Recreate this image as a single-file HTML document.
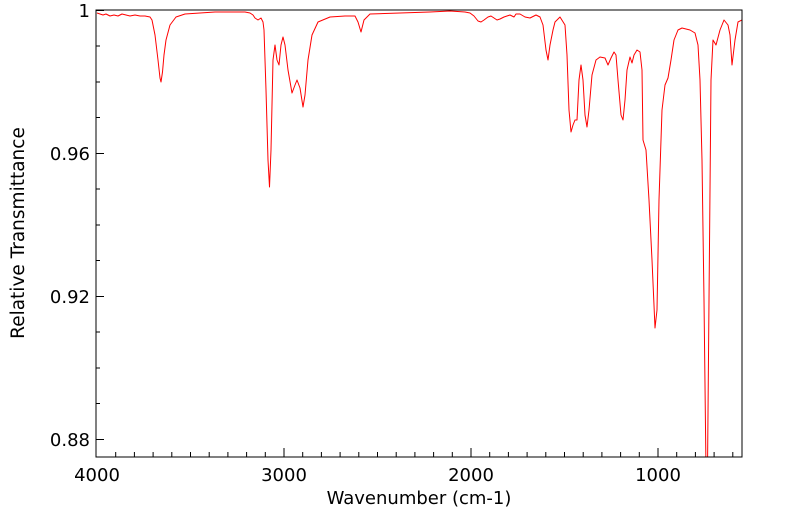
<!DOCTYPE html>
<html><head><meta charset="utf-8"><style>
html,body{margin:0;padding:0;background:#fff;}
svg{display:block;font-family:"DejaVu Sans","Liberation Sans",sans-serif;}
</style></head><body>
<svg width="799" height="516" viewBox="0 0 799 516" xmlns="http://www.w3.org/2000/svg">
<defs><clipPath id="c"><rect x="96" y="10" width="646" height="447"/></clipPath></defs>
<g clip-path="url(#c)">
<polyline fill="none" stroke="#ff0000" stroke-width="1" stroke-linejoin="round" points="97,13 100,14 103,15 106,14 110,16 114,15 118,16 122,14 126,15 130,16 135,15 140,16 145,16 150,17 152,20 155,35 158,60 160,78 161,82 162.5,72 164,55 166,40 170,25 176,17 185,14 200,13 215,12 230,12 245,12 250,13 253,15 255,18 258,20 261,18 263,22 264,30 266,90 268,160 269.5,187 271,150 273,60 275,45 277,60 279,65 281,45 283,37 285,45 288,70 292,93 295,85 297,80 300,88 303,107 305,95 308,60 312,35 318,22 330,17 345,16 355,16 358,22 361,32 364,20 370,14 400,13 430,12 450,11 465,12 470,13 474,16 478,21 481,22 484,20 488,17 491,16 494,18 497,20 500,19 504,17 510,15 514,17 516,14 520,14 525,17 530,18 536,15 540,17 543,25 546,50 548,60 550,45 553,30 555,22 560,17 565,25 567,55 569,110 571,132 573,125 575,120 577,120 579,80 581,65 583,80 585,115 587,127 589,110 592,75 596,60 600,57 605,58 608,65 611,58 614,52 616,55 618,80 621,115 623,120 625,100 627,70 630,57 632,63 634,55 637,50 640,52 642,70 643,140 646,150 649,200 652,260 655,328 657,310 659,200 662,110 665,85 668,78 671,60 674,40 678,30 682,28 690,30 695,33 698,45 700,80 702,160 704,300 706,470 707.5,470 709,300 711,80 713,40 716,45 720,30 724,20 728,25 730,35 732,65 735,40 738,22 742,20"/>
</g>
<rect x="96" y="10" width="646" height="447" fill="none" stroke="#000" stroke-width="1"/>
<g stroke="#000" stroke-width="1">
<line x1="96" y1="10.5" x2="104" y2="10.5"/>
<line x1="96" y1="46" x2="100" y2="46"/>
<line x1="96" y1="82" x2="100" y2="82"/>
<line x1="96" y1="117.5" x2="100" y2="117.5"/>
<line x1="96" y1="153.5" x2="104" y2="153.5"/>
<line x1="96" y1="189" x2="100" y2="189"/>
<line x1="96" y1="225" x2="100" y2="225"/>
<line x1="96" y1="260.5" x2="100" y2="260.5"/>
<line x1="96" y1="296.5" x2="104" y2="296.5"/>
<line x1="96" y1="332" x2="100" y2="332"/>
<line x1="96" y1="368" x2="100" y2="368"/>
<line x1="96" y1="403.5" x2="100" y2="403.5"/>
<line x1="96" y1="439.5" x2="104" y2="439.5"/>
<line x1="115.7" y1="457" x2="115.7" y2="452"/>
<line x1="134.4" y1="457" x2="134.4" y2="452"/>
<line x1="153.1" y1="457" x2="153.1" y2="452"/>
<line x1="171.8" y1="457" x2="171.8" y2="452"/>
<line x1="190.5" y1="457" x2="190.5" y2="452"/>
<line x1="209.2" y1="457" x2="209.2" y2="452"/>
<line x1="227.9" y1="457" x2="227.9" y2="452"/>
<line x1="246.6" y1="457" x2="246.6" y2="452"/>
<line x1="265.3" y1="457" x2="265.3" y2="452"/>
<line x1="284" y1="457" x2="284" y2="448"/>
<line x1="302.7" y1="457" x2="302.7" y2="452"/>
<line x1="321.4" y1="457" x2="321.4" y2="452"/>
<line x1="340.1" y1="457" x2="340.1" y2="452"/>
<line x1="358.8" y1="457" x2="358.8" y2="452"/>
<line x1="377.5" y1="457" x2="377.5" y2="452"/>
<line x1="396.2" y1="457" x2="396.2" y2="452"/>
<line x1="414.9" y1="457" x2="414.9" y2="452"/>
<line x1="433.6" y1="457" x2="433.6" y2="452"/>
<line x1="452.3" y1="457" x2="452.3" y2="452"/>
<line x1="471" y1="457" x2="471" y2="448"/>
<line x1="489.7" y1="457" x2="489.7" y2="452"/>
<line x1="508.4" y1="457" x2="508.4" y2="452"/>
<line x1="527.1" y1="457" x2="527.1" y2="452"/>
<line x1="545.8" y1="457" x2="545.8" y2="452"/>
<line x1="564.5" y1="457" x2="564.5" y2="452"/>
<line x1="583.2" y1="457" x2="583.2" y2="452"/>
<line x1="601.9" y1="457" x2="601.9" y2="452"/>
<line x1="620.6" y1="457" x2="620.6" y2="452"/>
<line x1="639.3" y1="457" x2="639.3" y2="452"/>
<line x1="658" y1="457" x2="658" y2="448"/>
<line x1="676.7" y1="457" x2="676.7" y2="452"/>
<line x1="695.4" y1="457" x2="695.4" y2="452"/>
<line x1="714.1" y1="457" x2="714.1" y2="452"/>
<line x1="732.8" y1="457" x2="732.8" y2="452"/>
</g>
<g font-size="18" fill="#000">
<text x="90" y="17" text-anchor="end">1</text>
<text x="90" y="160" text-anchor="end">0.96</text>
<text x="90" y="303" text-anchor="end">0.92</text>
<text x="90" y="446" text-anchor="end">0.88</text>
<text x="97" y="481" text-anchor="middle">4000</text>
<text x="284" y="481" text-anchor="middle">3000</text>
<text x="471" y="481" text-anchor="middle">2000</text>
<text x="658" y="481" text-anchor="middle">1000</text>
<text x="419" y="504" text-anchor="middle">Wavenumber (cm-1)</text>
<text transform="translate(24,233) rotate(-90)" text-anchor="middle" font-size="18.5">Relative Transmittance</text>
</g>
</svg>
</body></html>
